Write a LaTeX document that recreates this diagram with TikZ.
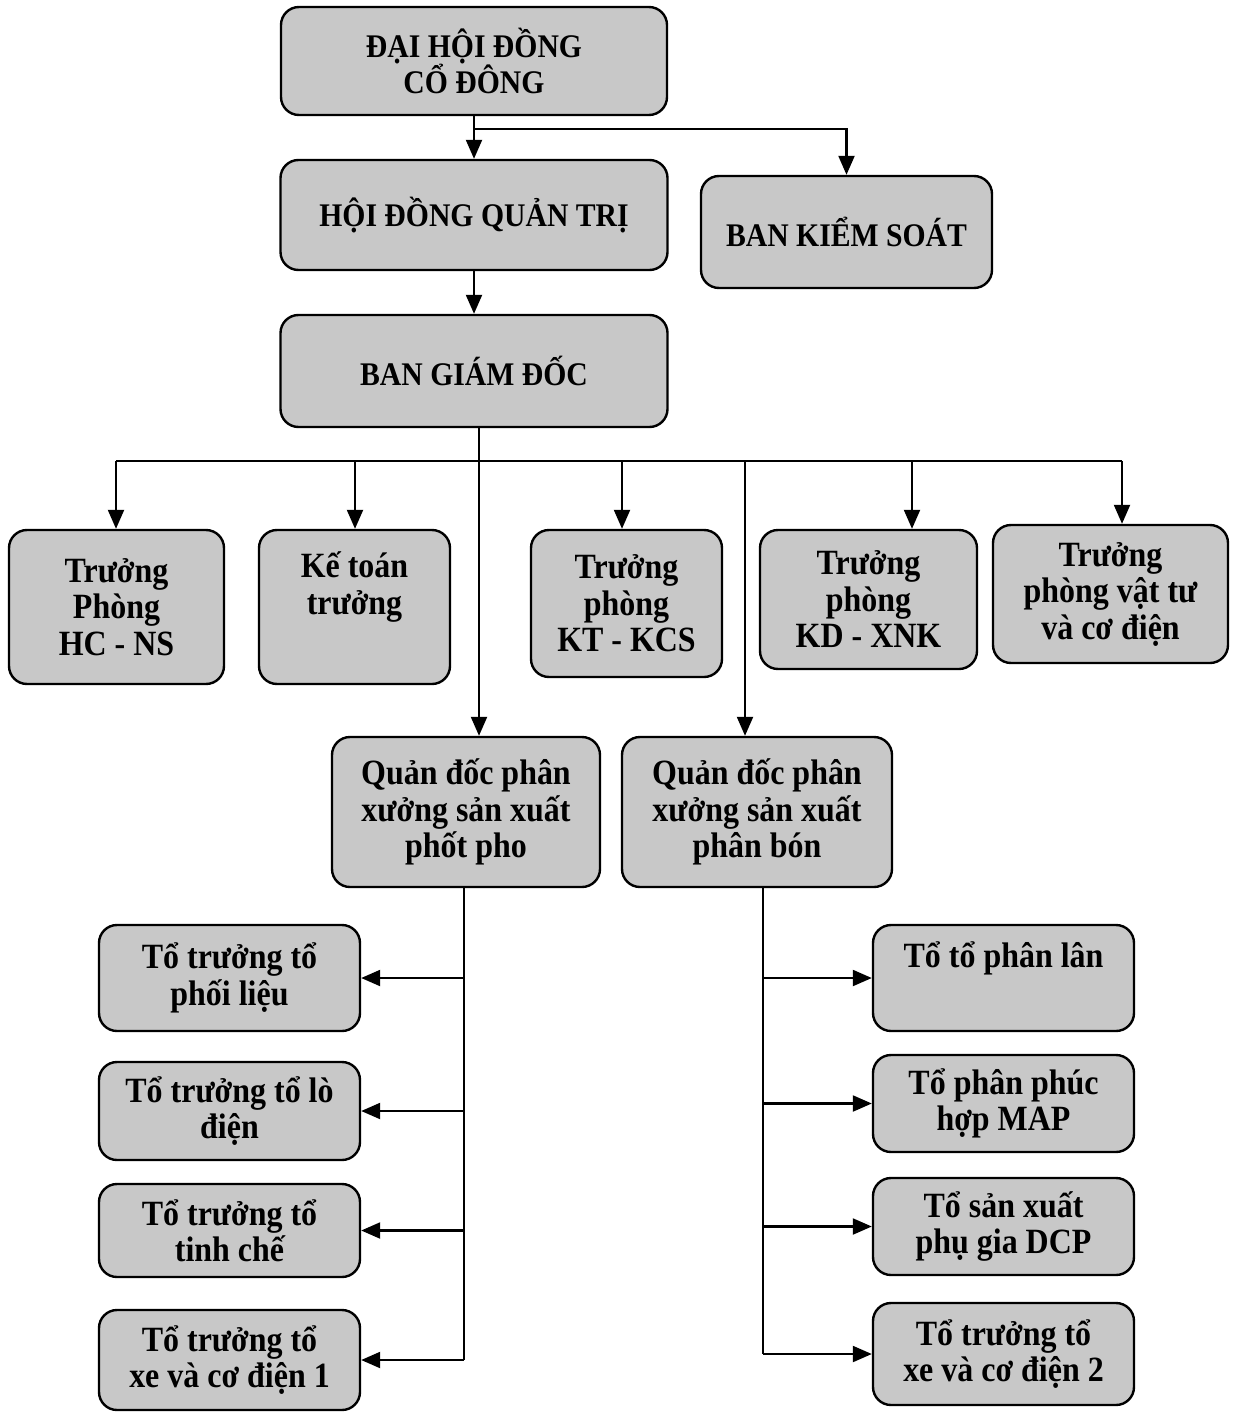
\documentclass[tikz,border=0pt]{standalone}
\usepackage{fontspec}
\setmainfont[FakeStretch=0.9]{Liberation Serif}
\usetikzlibrary{arrows.meta}
\definecolor{boxgray}{RGB}{200,200,200}
\begin{document}
\begin{tikzpicture}[x=1pt,y=-1pt,
  box/.style={draw=black, line width=2.4pt, rounded corners=18pt, fill=boxgray,
    align=center, inner sep=0pt,
    font=\bfseries\fontsize{35.5}{36.5}\selectfont},
  headbox/.style={box, font=\bfseries\fontsize{33}{35}\selectfont},
  link/.style={line width=2.2pt, draw=black},
  arr/.style={link, -{Triangle[length=19pt,width=16pt]}}]
\useasboundingbox (0,0) rectangle (1232,1412);

% governing bodies
\node[headbox, minimum width=386pt, minimum height=108pt] (dhdcd) at (474,61) {ĐẠI HỘI ĐỒNG\\CỔ ĐÔNG};
\node[headbox, minimum width=387pt, minimum height=110pt] (hdqt) at (474,215) {HỘI ĐỒNG QUẢN TRỊ};
\node[headbox, minimum width=291pt, minimum height=112pt] (bks) at (846.5,232) {BAN KIỂM SOÁT};
\node[headbox, minimum width=387pt, minimum height=112pt] (bgd) at (474,371) {BAN GIÁM ĐỐC};

% departments
\node[box, minimum width=215pt, minimum height=154pt] (hcns) at (116.5,607) {Trưởng\\Phòng\\HC - NS};
\node[box, minimum width=191pt, minimum height=154pt] (ktt) at (354.5,607) {Kế toán\\trưởng\\\strut};
\node[box, minimum width=191pt, minimum height=147pt] (ktkcs) at (626.5,603.5) {Trưởng\\phòng\\KT - KCS};
\node[box, minimum width=217pt, minimum height=139pt] (kdxnk) at (868.5,599.5) {Trưởng\\phòng\\KD - XNK};
\node[box, minimum width=235pt, minimum height=138pt] (vattu) at (1110.5,594) {Trưởng\\phòng vật tư\\và cơ điện};

% workshops
\node[box, minimum width=268pt, minimum height=150pt] (qd1) at (466,812) {Quản đốc phân\\xưởng sản xuất\\phốt pho};
\node[box, minimum width=270pt, minimum height=150pt] (qd2) at (757,812) {Quản đốc phân\\xưởng sản xuất\\phân bón};

% teams of the phosphorus workshop
\node[box, minimum width=261pt, minimum height=106pt] (t1) at (229.5,978) {Tổ trưởng tổ\\phối liệu};
\node[box, minimum width=261pt, minimum height=98pt] (t2) at (229.5,1111) {Tổ trưởng tổ lò\\điện};
\node[box, minimum width=261pt, minimum height=93pt] (t3) at (229.5,1230.5) {Tổ trưởng tổ\\tinh chế};
\node[box, minimum width=261pt, minimum height=100pt] (t4) at (229.5,1360) {Tổ trưởng tổ\\xe và cơ điện 1};

% teams of the fertiliser workshop
\node[box, minimum width=261pt, minimum height=106pt] (p1) at (1003.5,978) {Tổ tổ phân lân\\\strut};
\node[box, minimum width=261pt, minimum height=97pt] (p2) at (1003.5,1103.5) {Tổ phân phúc\\hợp MAP};
\node[box, minimum width=261pt, minimum height=97pt] (p3) at (1003.5,1226.5) {Tổ sản xuất\\phụ gia DCP};
\node[box, minimum width=261pt, minimum height=102pt] (p4) at (1003.5,1354) {Tổ trưởng tổ\\xe và cơ điện 2};

% junction points
\coordinate (j0) at (474,129);
\coordinate (s0) at (479,461);
\coordinate (b1) at (116,461);
\coordinate (b2) at (355,461);
\coordinate (b3) at (622,461);
\coordinate (s1) at (745,461);
\coordinate (b4) at (912,461);
\coordinate (b5) at (1122,461);
\coordinate (l0) at (464,0);
\coordinate (r0) at (763,0);

% upper connectors
\draw[arr] (dhdcd) -- (hdqt);
\draw[arr] (j0) -| (bks);
\draw[arr] (hdqt) -- (bgd);

% bus below the board of directors
\draw[link] (b1) -- (b5);
\draw[arr] (bgd.south -| s0) -- (qd1.north -| s0);
\draw[arr] (s1) -- (qd2.north -| s1);
\draw[arr] (b1) -- (b1 |- hcns.north);
\draw[arr] (b2) -- (b2 |- ktt.north);
\draw[arr] (b3) -- (b3 |- ktkcs.north);
\draw[arr] (b4) -- (b4 |- kdxnk.north);
\draw[arr] (b5) -- (b5 |- vattu.north);

% phosphorus workshop tree
\draw[link] (qd1.south -| l0) -- (l0 |- t4.east);
\foreach \t in {t1,t2,t3,t4}
  \draw[arr] (l0 |- \t.east) -- (\t.east);

% fertiliser workshop tree
\draw[link] (qd2.south -| r0) -- (r0 |- p4.west);
\foreach \p in {p1,p2,p3,p4}
  \draw[arr] (r0 |- \p.west) -- (\p.west);
\end{tikzpicture}
\end{document}
